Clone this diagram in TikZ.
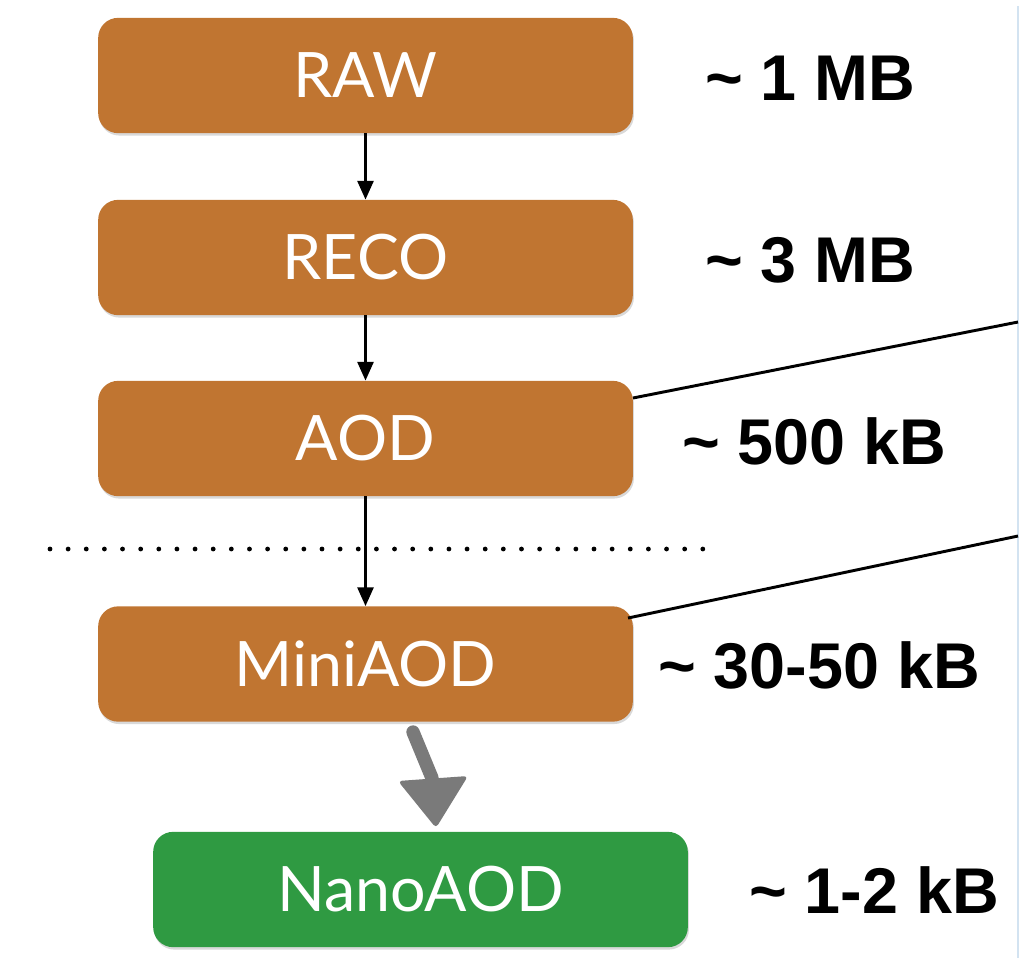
\documentclass[tikz,border=0pt]{standalone}
\usepackage{fontspec}
\setmainfont{Lato}
\newfontfamily\sizefont{Liberation Sans}
\usetikzlibrary{arrows.meta,shadows}
\definecolor{boxorange}{HTML}{C07531}
\definecolor{boxgreen}{HTML}{2F9A42}
\definecolor{edgeblue}{HTML}{D3E3F1}
\definecolor{handgray}{HTML}{7A7A7A}
\begin{document}
\begin{tikzpicture}[x=0.75pt,y=-0.75pt,
  databox/.style={rounded corners=15pt, minimum width=401pt, minimum height=86.5pt,
    inner sep=0pt, text=white, font=\fontsize{47}{50}\selectfont,
    drop shadow={shadow xshift=0.8pt, shadow yshift=-1.8pt, opacity=0.3}},
  sizelabel/.style={anchor=base west, inner sep=0pt, font=\sizefont\bfseries\fontsize{48.5}{52}\selectfont},
  flow/.style={line width=1.9pt, -{Triangle[length=14pt,width=12pt]}},
  sepline/.style={line width=3.6pt, line cap=round, dash pattern=on 0pt off 13.6pt},
  link/.style={line width=2.2pt},
  handarrow/.style={handgray, line width=10pt, line cap=round}]
\useasboundingbox (0,0) rectangle (1031,958);
\draw[edgeblue, line width=1.5pt] (1018,6) -- (1018,958);

\node[databox, fill=boxorange] (raw)  at (365.5,75.5)  {RAW};
\node[databox, fill=boxorange] (reco) at (365.5,257.5) {RECO};
\node[databox, fill=boxorange] (aod)  at (365.5,438.5) {AOD};
\node[databox, fill=boxorange] (mini) at (365.5,664)   {MiniAOD};
\node[databox, fill=boxgreen]  (nano) at (420.5,889.5) {NanoAOD};

\draw[flow] (raw.south) -- (reco.north);
\draw[flow] (reco.south) -- (aod.north);
\draw[flow] (aod.south) -- (mini.north);

\coordinate (dotA) at (50,549);
\coordinate (dotB) at (718,549);
\draw[sepline] (dotA) -- (dotB);

\coordinate (aodtip) at (633,398);
\coordinate (edgeA) at (1018,322);
\coordinate (minitip) at (628,618);
\coordinate (edgeB) at (1018,536);
\draw[link] (aodtip) -- (edgeA);
\draw[link] (minitip) -- (edgeB);

\coordinate (hstart) at (413,732);
\coordinate (hmid) at (432,778);
\draw[handarrow] (hstart) -- (hmid);
\fill[handgray, rounded corners=3pt] (398,781) -- (468,776) -- (436,828) -- cycle;

\node[sizelabel] (l1) at (705,100) {\textasciitilde{} 1 MB};
\node[sizelabel] (l2) at (705,282) {\textasciitilde{} 3 MB};
\node[sizelabel] (l3) at (682,464) {\textasciitilde{} 500 kB};
\node[sizelabel] (l4) at (658,688) {\textasciitilde{} 30-50 kB};
\node[sizelabel] (l5) at (749,913) {\textasciitilde{} 1-2 kB};
\end{tikzpicture}
\end{document}
